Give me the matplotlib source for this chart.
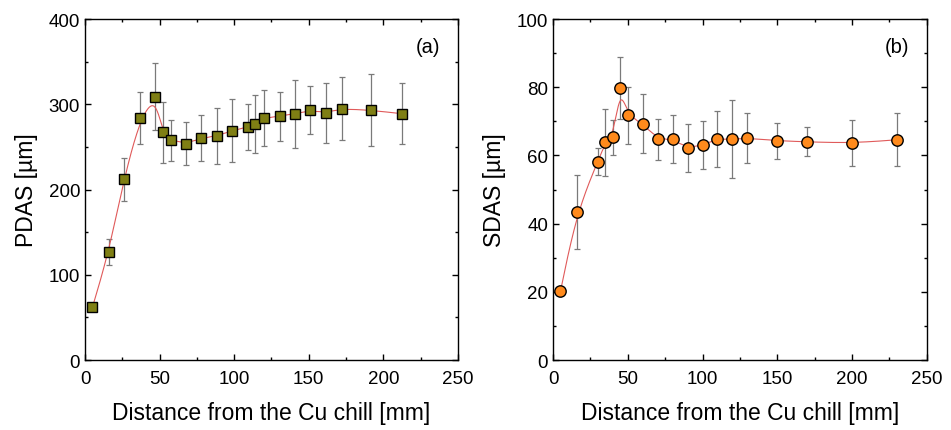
import numpy as np
import matplotlib
matplotlib.use("Agg")
import matplotlib.pyplot as plt
from matplotlib.ticker import MultipleLocator

# (a) primary dendrite arm spacing
pdas_x = [5, 16, 26, 37, 47, 52, 57.5, 67.5, 78, 88.5, 98.5, 109, 114, 120, 130.5, 141, 151, 161.5, 172, 192, 212.5]
pdas_y = [62, 127, 212, 284, 309, 267, 258, 254, 260, 263, 269, 273, 277, 284, 286, 289, 293, 290, 295, 293, 289]
pdas_err = [4, 15, 25, 30, 39, 36, 24, 25, 27, 33, 37, 27, 34, 33, 29, 40, 28, 35, 37, 42, 36]

# (b) secondary dendrite arm spacing
sdas_x = [5, 16, 30, 35, 40, 45, 50, 60, 70, 80, 90, 100, 110, 120, 130, 150, 170, 200, 230]
sdas_y = [20.2, 43.5, 58.2, 63.8, 65.3, 79.8, 71.8, 69.3, 64.8, 64.8, 62.1, 63.1, 64.8, 64.8, 65.1, 64.3, 64.0, 63.6, 64.6]
sdas_err = [0, 10.8, 4, 9.8, 5.1, 9.2, 8.4, 8.6, 6, 7, 7, 7, 8.2, 11.4, 7.4, 5.3, 4.3, 6.7, 7.8]


def bspline(x, y, n=40):
    # uniform cubic B-spline using the data points as control points (clamped ends)
    p = np.column_stack([x, y]).astype(float)
    p = np.vstack([p[0], p[0], p, p[-1], p[-1]])
    t = np.linspace(0, 1, n, endpoint=False)
    b0 = (1 - t) ** 3 / 6
    b1 = (3 * t**3 - 6 * t**2 + 4) / 6
    b2 = (-3 * t**3 + 3 * t**2 + 3 * t + 1) / 6
    b3 = t**3 / 6
    segs = []
    for i in range(len(p) - 3):
        segs.append(np.outer(b0, p[i]) + np.outer(b1, p[i + 1]) + np.outer(b2, p[i + 2]) + np.outer(b3, p[i + 3]))
    segs.append(p[-1][None, :])
    c = np.vstack(segs)
    return c[:, 0], c[:, 1]


plt.rcParams["font.family"] = ["Liberation Sans", "DejaVu Sans"]
fig = plt.figure(figsize=(9.51, 4.31), dpi=100)
ax1 = fig.add_axes([0.0894, 0.1624, 0.392, 0.791])
ax2 = fig.add_axes([0.5815, 0.1624, 0.393, 0.791])

panels = [
    (ax1, pdas_x, pdas_y, pdas_err, "s", "#7f7f14", 7.4, "PDAS [\u00b5m]", 400, 100, 50, "(a)"),
    (ax2, sdas_x, sdas_y, sdas_err, "o", "#ff8a1c", 8.2, "SDAS [\u00b5m]", 100, 20, 10, "(b)"),
]

for ax, x, y, e, mk, col, ms, ylab, ymax, ymaj, ymin, tag in panels:
    cx, cy = bspline(x, y)
    ax.plot(cx, cy, "-", color="#e05a5a", lw=0.8, zorder=2)
    ax.errorbar(x, y, yerr=e, fmt="none", ecolor="#7a7a7a", elinewidth=0.9,
                capsize=2.5, capthick=0.9, zorder=1)
    ax.plot(x, y, mk, color=col, mec="black", mew=1.0, ms=ms, ls="none", zorder=3)
    ax.set_xlim(0, 250)
    ax.set_ylim(0, ymax)
    ax.xaxis.set_major_locator(MultipleLocator(50))
    ax.xaxis.set_minor_locator(MultipleLocator(25))
    ax.yaxis.set_major_locator(MultipleLocator(ymaj))
    ax.yaxis.set_minor_locator(MultipleLocator(ymin))
    ax.tick_params(which="both", direction="in", top=True, right=True, labelsize=13.5)
    ax.tick_params(which="major", length=4, width=1)
    ax.tick_params(which="minor", length=2.5, width=1)
    ax.tick_params(axis="x", pad=7)
    for s in ax.spines.values():
        s.set_linewidth(1.0)
    ax.set_xlabel("Distance from the Cu chill [mm]", fontsize=16.5, labelpad=10)
    ax.set_ylabel(ylab, fontsize=16.5, labelpad=8)
    ax.text(0.92, 0.92, tag, transform=ax.transAxes, ha="center", va="center", fontsize=14.5)

fig.savefig("out.png", dpi=100)
